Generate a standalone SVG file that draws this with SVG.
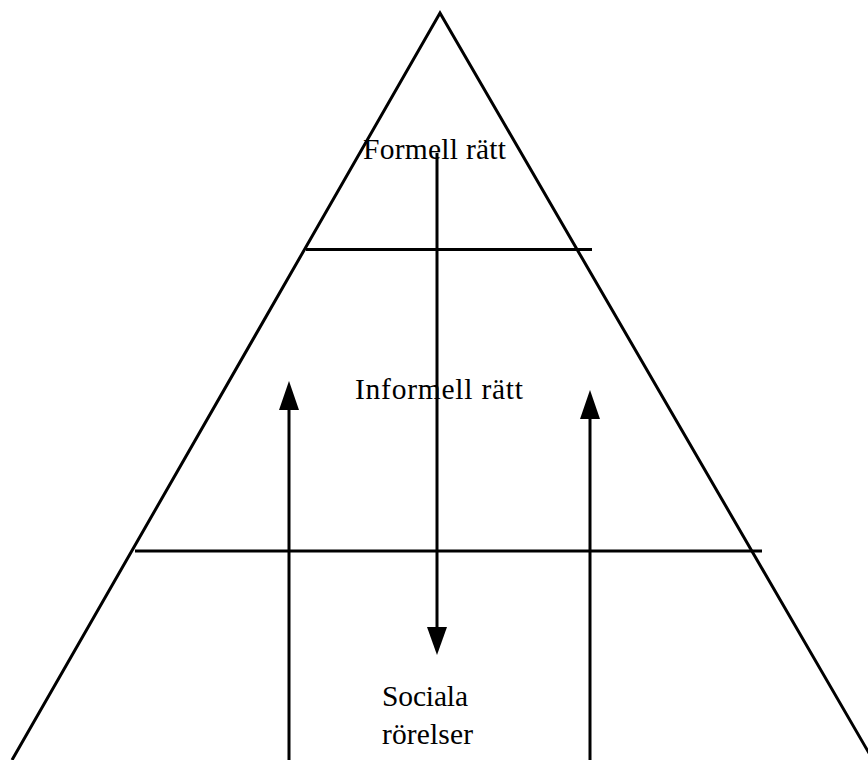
<svg xmlns="http://www.w3.org/2000/svg" width="868" height="760" viewBox="0 0 868 760">
<style>
.ln{stroke:#000;stroke-width:3;fill:none}
.hd{fill:#000;stroke:none}
.t{font-family:"Liberation Serif","Times New Roman",serif;font-size:29.5px;fill:#000}
</style>
<rect width="868" height="760" fill="#fff"/>
<g id="pyramid">
<polyline class="ln" points="12,760 440,13 873,760"/>
<line class="ln" x1="306" y1="249.5" x2="592" y2="249.5"/>
<line class="ln" x1="135" y1="551" x2="762" y2="551"/>
</g>
<g id="formell"><text class="t" x="363" y="159" textLength="143" lengthAdjust="spacing">Formell rätt</text></g>
<g id="informell"><text class="t" x="355" y="399" textLength="168" lengthAdjust="spacing">Informell rätt</text></g>
<g id="sociala"><text class="t" x="382" y="706" textLength="86" lengthAdjust="spacing">Sociala</text><text class="t" x="382" y="744" textLength="91" lengthAdjust="spacing">rörelser</text></g>
<g id="connectors">
<line class="ln" x1="437" y1="153" x2="437" y2="630"/>
<polygon class="hd" points="427,627 447,627 437,655"/>
<line class="ln" x1="289" y1="408" x2="289" y2="760"/>
<polygon class="hd" points="279,410 299,410 289,381"/>
<line class="ln" x1="590" y1="416" x2="590" y2="760"/>
<polygon class="hd" points="580,419 600,419 590,390"/>
</g>
</svg>
